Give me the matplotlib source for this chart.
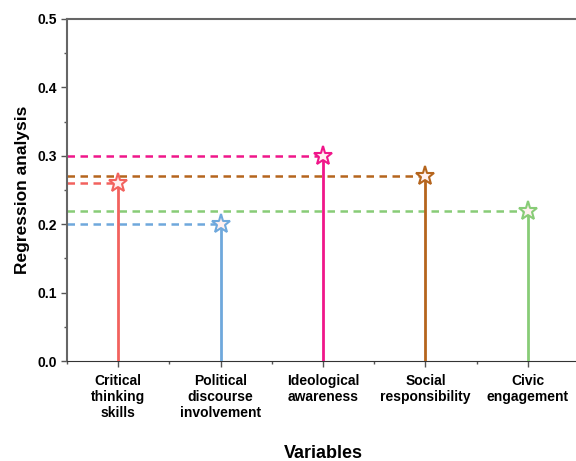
import matplotlib.pyplot as plt
import numpy as np
from matplotlib.ticker import MultipleLocator

plt.rcParams['font.family'] = ['Liberation Sans', 'DejaVu Sans']

categories = ['Critical\nthinking\nskills', 'Political\ndiscourse\ninvolvement',
              'Ideological\nawareness', 'Social\nresponsibility', 'Civic\nengagement']
values = [0.26, 0.20, 0.30, 0.27, 0.22]
colors = ['#F2625E', '#6FA8DC', '#F0168A', '#B5651D', '#88CC77']

fig = plt.figure(figsize=(5.76, 4.61), dpi=100)
ax = fig.add_axes([0.1163, 0.2169, 0.8889, 0.7419])

x = np.arange(1, len(values) + 1)
for xi, v, c in zip(x, values, colors):
    ax.plot([0.5, xi], [v, v], color=c, lw=1.8, ls=(0, (3, 2.2)), zorder=2)
    ax.plot([xi, xi], [0, v], color=c, lw=2.0, zorder=3)
    ax.plot(xi, v, marker='*', ms=14, mfc='#fff0f0', mec=c, mew=1.5, zorder=4)

ax.set_xlim(0.5, 5.5)
ax.set_ylim(0, 0.5)
ax.set_xticks(x)
ax.set_xticklabels(categories, fontweight='bold', fontsize=10)
ax.xaxis.set_minor_locator(MultipleLocator(1, offset=0.5))
ax.yaxis.set_major_locator(MultipleLocator(0.1))
ax.yaxis.set_minor_locator(MultipleLocator(0.05))
ax.set_yticklabels([f'{t:.1f}' for t in ax.get_yticks()], fontweight='bold', fontsize=10)
ax.tick_params(which='major', direction='out', length=4, width=1, color='#555555')
ax.tick_params(axis='x', which='major', pad=5)
ax.tick_params(which='minor', direction='out', length=2.5, width=1, color='#555555')
for s in ['left', 'top']:
    ax.spines[s].set_color('#666666')
    ax.spines[s].set_linewidth(1.5)
ax.spines['bottom'].set_color('#333333')
ax.spines['right'].set_visible(False)

ax.set_ylabel('Regression analysis', fontweight='bold', fontsize=12.5, labelpad=5)
ax.set_xlabel('Variables', fontweight='bold', fontsize=13, labelpad=18)

fig.savefig('out.png', dpi=100)
